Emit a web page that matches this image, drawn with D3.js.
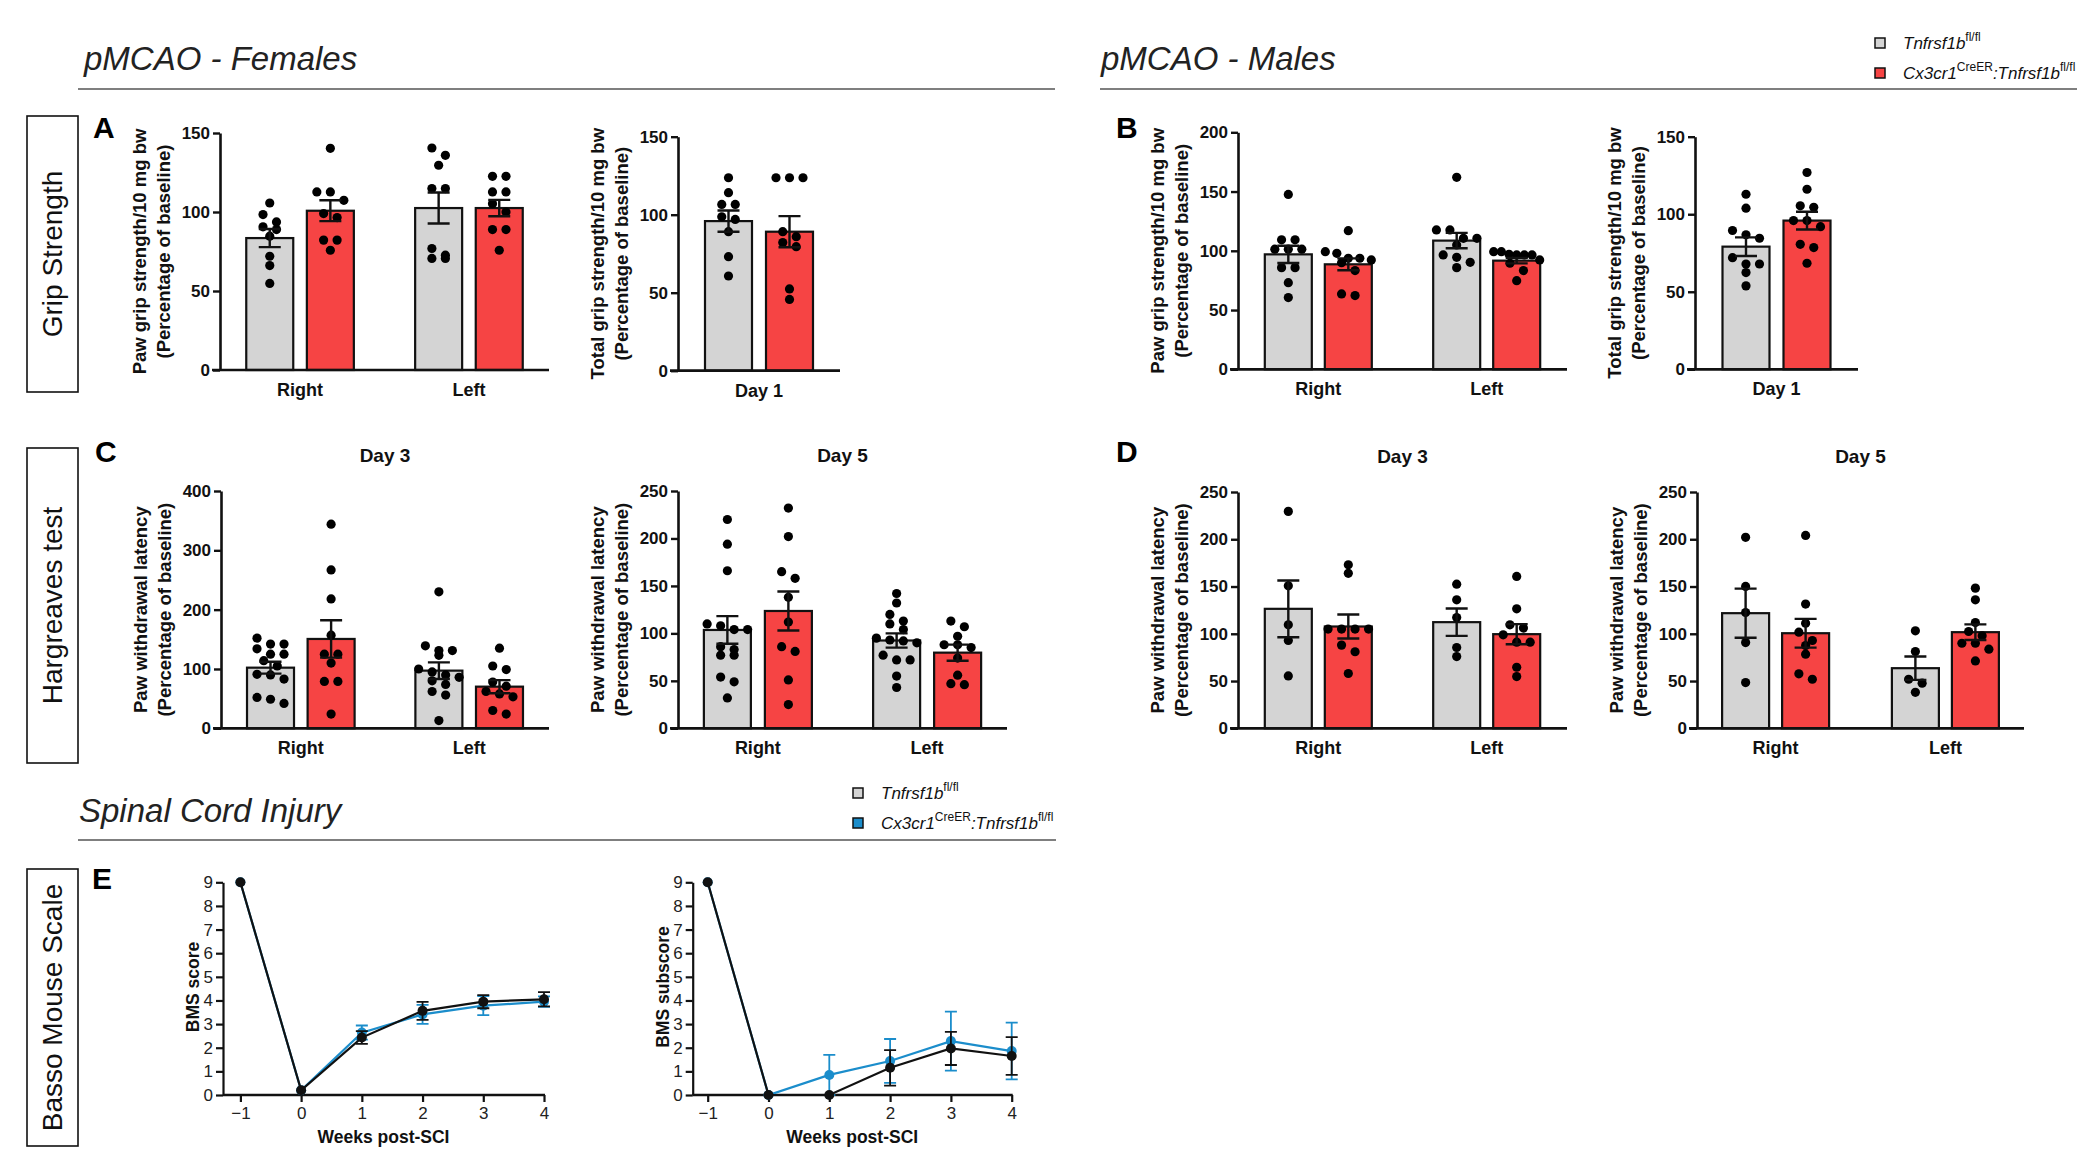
<!DOCTYPE html>
<html>
<head>
<meta charset="utf-8">
<script src="https://cdn.jsdelivr.net/npm/d3@7"></script>
<style>
  body { margin: 0; background: #fff; }
  svg { font-family: "Liberation Sans", Arial, sans-serif; }
</style>
</head>
<body>
<script>
// ---- data (bars ordered Right-ctrl, Right-cKO, Left-ctrl, Left-cKO) ----
var grpLR = ["Right", "Left"];
var grpDay1 = ["Day 1"];

var femPawMean = [83.5, 100.8, 102.5, 102.5];
var femPawSem = [5.7, 6.6, 9.8, 5.2];
var femPawDots = [
  [105.7, 98.4, 93.7, 90.6, 88.9, 84.7, 72.0, 66.1, 54.8],
  [140.3, 112.7, 112.7, 107.4, 99, 96.5, 82.2, 82.2, 75.8],
  [140.5, 135.9, 129.6, 114.8, 114.8, 76.9, 72.7, 70.6, 70.6],
  [122.6, 122.6, 112.7, 112.7, 105.3, 100, 88.9, 88.9, 75.8]
];
var femTotMean = [95.9, 89.1];
var femTotSem = [6.8, 10.0];
var femTotDots = [
  [123.7, 114.1, 106.6, 106.6, 98.7, 97, 89.1, 73.1, 60.7],
  [123.7, 123.7, 123.7, 89.1, 85.9, 82.1, 79.5, 52.4, 45.7]
];

var malPawMean = [97.0, 88.6, 108.6, 91.7];
var malPawSem = [7.3, 5.0, 6.5, 2.3];
var malPawDots = [
  [147.6, 109.3, 109.3, 101.4, 101.4, 101.4, 85.8, 85.8, 73.1, 60.5],
  [117, 99.3, 97.9, 93.7, 93.7, 92.3, 90, 83.3, 63.6, 62.2],
  [162, 117.6, 117.6, 110.5, 110.5, 104.9, 96.5, 94.5, 90.3, 85.8],
  [99.3, 99.3, 97, 96.5, 96.5, 96.5, 92.3, 89.5, 83.3, 74.8]
];
var malTotMean = [79.1, 95.9];
var malTotSem = [6.0, 5.7];
var malTotDots = [
  [112.9, 103.9, 89.5, 86.7, 84.5, 72, 67.9, 67.9, 62.4, 53.8],
  [126.9, 116.1, 105.4, 104.5, 95.9, 95.9, 92, 80.6, 78.5, 68.4]
];

var femD3Mean = [102.2, 150.6, 97.2, 70.2];
var femD3Sem = [10, 31.5, 14, 11];
var femD3Dots = [
  [152, 142, 142, 134, 125, 125, 114, 105, 91, 90, 83, 52, 49, 42],
  [344, 267, 218, 157, 125, 125, 110, 79, 79, 24],
  [230, 139, 131, 131, 123, 100, 95, 90, 86, 80, 74, 62, 56, 13],
  [135, 105, 99, 78, 71, 62, 58, 53, 30, 24]
];
var femD5Mean = [103.6, 123.6, 92.5, 79.7];
var femD5Sem = [14.6, 20.6, 7.5, 8.5];
var femD5Dots = [
  [220, 194, 166, 110, 108, 104, 104, 86, 83, 77, 77, 54, 49, 32],
  [232, 202, 165, 158, 138, 112, 86, 81, 51, 25],
  [142, 132, 120, 113, 110, 104, 95, 93, 92, 90, 77, 72, 72, 55, 43],
  [113, 107, 97, 88, 88, 85, 74, 56, 47, 46]
];

var malD3Mean = [126.4, 107.7, 112.3, 99.6];
var malD3Sem = [30, 12.7, 14.5, 10.6];
var malD3Dots = [
  [229.5, 150.7, 109.5, 92.9, 55.4],
  [173, 164, 105, 105, 105, 105, 88, 81, 58],
  [152.5, 135.9, 117.2, 85.5, 75.9],
  [160.7, 126.4, 109.5, 106, 98.9, 91.1, 91.1, 64.6, 54.7]
];
var malD5Mean = [121.8, 100.6, 63.6, 101.7];
var malD5Sem = [26, 15.2, 12.4, 8.3];
var malD5Dots = [
  [202, 150.1, 122.5, 90.7, 48.4],
  [204.1, 131.4, 111.2, 101.7, 92.9, 87.6, 78.4, 57.6, 51.9],
  [103.1, 81.2, 51.9, 47.7, 38.1],
  [148.3, 135.9, 111.9, 102.4, 97.8, 90, 90, 83.7, 71.3]
];

var weeks = [-1, 0, 1, 2, 3, 4];
var bmsCtrl = [9, 0.2, 2.43, 3.56, 3.95, 4.05];
var bmsCtrlSem = [0, 0, 0.27, 0.38, 0.28, 0.3];
var bmsCko = [9, 0.2, 2.64, 3.41, 3.78, 3.95];
var bmsCkoSem = [0, 0, 0.3, 0.4, 0.4, 0.22];
var subCtrl = [9, 0, 0, 1.15, 1.97, 1.65];
var subCtrlSem = [0, 0, 0, 0.75, 0.7, 0.8];
var subCko = [9, 0, 0.85, 1.44, 2.28, 1.86];
var subCkoSem = [0, 0, 0.85, 0.93, 1.25, 1.2];

// ---- drawing ----
var GRAY = "#d4d4d4", RED = "#f64444", BLUE = "#1b8dcb", INK = "#111";
var svg = d3.select("body").append("svg").attr("width", 2100).attr("height", 1169);

function swarm(vals, y, cx) {
  var rows = [];
  vals.slice().sort(function (a, b) { return b - a; }).forEach(function (v) {
    var py = y(v), r = rows[rows.length - 1];
    if (r && py - r.top < 8.5) r.items.push(py);
    else rows.push({top: py, items: [py]});
  });
  var out = [];
  rows.forEach(function (r) {
    var n = r.items.length, sp = n > 1 ? Math.min(13.5, 46 / (n - 1)) : 0;
    r.items.forEach(function (py, i) { out.push({x: cx + (i - (n - 1) / 2) * sp, y: py}); });
  });
  return out;
}

function yLabel(g, lines, cx, cy, size) {
  var t = g.append("text")
    .attr("transform", "translate(" + cx + "," + cy + ") rotate(-90)")
    .attr("text-anchor", "middle").attr("font-weight", "bold")
    .attr("font-size", size).attr("fill", INK);
  lines.forEach(function (l, i) {
    t.append("tspan").attr("x", 0).attr("y", i * 24).text(l);
  });
}

function barChart(c) {
  var g = svg.append("g");
  var y = d3.scaleLinear().domain([0, c.max]).range([c.y0, c.y1]);
  var x = d3.scalePoint().domain(c.groups).range([c.x0, c.x1]).padding(c.pad);
  var off = d3.scalePoint().domain([0, 1]).range([-(c.bw + c.gap) / 2, (c.bw + c.gap) / 2]);

  var bars = c.mean.map(function (m, i) {
    return {m: m, s: c.sem[i], dots: c.dots[i], k: i % 2,
      cx: x(c.groups[Math.floor(i / 2)]) + off(i % 2)};
  });

  g.selectAll("rect.bar").data(bars).enter().append("rect")
    .attr("x", function (d) { return d.cx - c.bw / 2; })
    .attr("y", function (d) { return y(d.m); })
    .attr("width", c.bw)
    .attr("height", function (d) { return c.y0 - y(d.m); })
    .attr("fill", function (d) { return d.k ? RED : GRAY; })
    .attr("stroke", INK).attr("stroke-width", 2.2);

  bars.forEach(function (b) {
    g.selectAll(null).data(swarm(b.dots, y, b.cx)).enter().append("circle")
      .attr("cx", function (d) { return d.x; })
      .attr("cy", function (d) { return d.y; })
      .attr("r", 4.6).attr("fill", "#000");
  });

  g.selectAll("path.err").data(bars).enter().append("path")
    .attr("d", function (d) {
      var t = y(d.m + d.s), b = y(d.m - d.s);
      return "M" + d.cx + "," + t + "V" + b +
        "M" + (d.cx - 11) + "," + t + "H" + (d.cx + 11) +
        "M" + (d.cx - 11) + "," + b + "H" + (d.cx + 11);
    })
    .attr("fill", "none").attr("stroke", INK).attr("stroke-width", 2.4);

  var ax = g.append("g").attr("transform", "translate(" + c.x0 + ",0)")
    .call(d3.axisLeft(y).tickValues(c.ticks).tickSize(7).tickSizeOuter(0).tickPadding(3));
  ax.select(".domain").attr("stroke", INK).attr("stroke-width", 2.6);
  ax.selectAll(".tick line").attr("stroke", INK).attr("stroke-width", 2.4);
  ax.selectAll(".tick text").attr("font-size", 17).attr("font-weight", "bold")
    .attr("fill", INK).attr("font-family", null);

  g.append("line").attr("x1", c.x0 - 8).attr("x2", c.x1)
    .attr("y1", c.y0).attr("y2", c.y0)
    .attr("stroke", INK).attr("stroke-width", 2.7);

  g.selectAll("text.grp").data(c.groups).enter().append("text")
    .attr("x", function (d) { return x(d); })
    .attr("y", c.y0 + 26)
    .attr("text-anchor", "middle").attr("font-weight", "bold")
    .attr("font-size", 18).attr("fill", INK)
    .text(function (d) { return d; });

  yLabel(g, c.label, c.x0 - 74, (c.y0 + c.y1) / 2, 18.5);

  if (c.title) {
    g.append("text").attr("x", (c.x0 + c.x1) / 2).attr("y", c.y1 - 29)
      .attr("text-anchor", "middle").attr("font-weight", "bold")
      .attr("font-size", 19).attr("fill", INK).text(c.title);
  }
}

var pawGrip = ["Paw grip strength/10 mg bw", "(Percentage of baseline)"];
var totGrip = ["Total grip strength/10 mg bw", "(Percentage of baseline)"];
var pawLat = ["Paw withdrawal latency", "(Percentage of baseline)"];

barChart({groups: grpLR, mean: femPawMean, sem: femPawSem, dots: femPawDots, max: 150,
  ticks: [0, 50, 100, 150], x0: 220, x1: 549, y0: 370, y1: 133, pad: 0.474, bw: 47, gap: 13.6, label: pawGrip});
barChart({groups: grpDay1, mean: femTotMean, sem: femTotSem, dots: femTotDots, max: 150,
  ticks: [0, 50, 100, 150], x0: 678, x1: 840, y0: 370.7, y1: 136.7, pad: 0.5, bw: 47, gap: 14, label: totGrip});
barChart({groups: grpLR, mean: malPawMean, sem: malPawSem, dots: malPawDots, max: 200,
  ticks: [0, 50, 100, 150, 200], x0: 1238, x1: 1567, y0: 369.3, y1: 132.3, pad: 0.477, bw: 47, gap: 13, label: pawGrip});
barChart({groups: grpDay1, mean: malTotMean, sem: malTotSem, dots: malTotDots, max: 150,
  ticks: [0, 50, 100, 150], x0: 1695, x1: 1858, y0: 369.3, y1: 136.7, pad: 0.5, bw: 47, gap: 14, label: totGrip});
barChart({groups: grpLR, mean: femD3Mean, sem: femD3Sem, dots: femD3Dots, max: 400,
  ticks: [0, 100, 200, 300, 400], x0: 221, x1: 549, y0: 728.3, y1: 491, pad: 0.474, bw: 47, gap: 13.6, label: pawLat, title: "Day 3"});
barChart({groups: grpLR, mean: femD5Mean, sem: femD5Sem, dots: femD5Dots, max: 250,
  ticks: [0, 50, 100, 150, 200, 250], x0: 678, x1: 1007, y0: 728.3, y1: 491, pad: 0.472, bw: 47, gap: 14, label: pawLat, title: "Day 5"});
barChart({groups: grpLR, mean: malD3Mean, sem: malD3Sem, dots: malD3Dots, max: 250,
  ticks: [0, 50, 100, 150, 200, 250], x0: 1238, x1: 1567, y0: 728.3, y1: 492, pad: 0.477, bw: 47, gap: 13, label: pawLat, title: "Day 3"});
barChart({groups: grpLR, mean: malD5Mean, sem: malD5Sem, dots: malD5Dots, max: 250,
  ticks: [0, 50, 100, 150, 200, 250], x0: 1697, x1: 2024, y0: 728.3, y1: 492, pad: 0.463, bw: 47, gap: 13, label: pawLat, title: "Day 5"});

// line charts (BMS)
function lineChart(c) {
  var g = svg.append("g");
  var y = d3.scaleLinear().domain([0, 9]).range([1095, 882.3]);
  var x = d3.scaleLinear().domain([-1, 4]).range([c.xa, c.xb]);

  var ax = g.append("g").attr("transform", "translate(" + c.x0 + ",0)")
    .call(d3.axisLeft(y).ticks(9).tickFormat(d3.format("d")).tickSize(7).tickSizeOuter(0).tickPadding(3));
  var bx = g.append("g").attr("transform", "translate(0,1095)")
    .call(d3.axisBottom(x).tickValues(weeks).tickFormat(d3.format("d")).tickSize(7).tickSizeOuter(0).tickPadding(5));
  bx.select(".domain").remove();
  [ax, bx].forEach(function (a) {
    a.selectAll(".domain, .tick line").attr("stroke", INK).attr("stroke-width", 2.2);
    a.selectAll(".tick text").attr("font-size", 17).attr("fill", "#222").attr("font-family", null);
  });
  g.append("line").attr("x1", c.x0).attr("x2", c.xb + 1)
    .attr("y1", 1095).attr("y2", 1095).attr("stroke", INK).attr("stroke-width", 2.4);

  var line = d3.line().x(function (d) { return x(d.w); }).y(function (d) { return y(d.v); });
  c.series.forEach(function (s) {
    var pts = weeks.map(function (w, i) { return {w: w, v: s.v[i], e: s.e[i]}; });
    g.append("path").datum(pts).attr("d", line)
      .attr("fill", "none").attr("stroke", s.color).attr("stroke-width", 2.2);
    g.selectAll(null).data(pts.filter(function (d) { return d.e > 0; })).enter().append("path")
      .attr("d", function (d) {
        var px = x(d.w), t = y(d.v + d.e), b = y(Math.max(0, d.v - d.e));
        return "M" + px + "," + t + "V" + b + "M" + (px - 6) + "," + t + "H" + (px + 6) +
          "M" + (px - 6) + "," + b + "H" + (px + 6);
      })
      .attr("fill", "none").attr("stroke", s.color).attr("stroke-width", 1.8);
    g.selectAll(null).data(pts).enter().append("circle")
      .attr("cx", function (d) { return x(d.w); })
      .attr("cy", function (d) { return y(d.v); })
      .attr("r", 5).attr("fill", s.color);
  });

  yLabel(g, [c.label], c.x0 - 24, 987, 17.5);
  g.append("text").attr("x", (c.x0 + c.xb) / 2).attr("y", 1143)
    .attr("text-anchor", "middle").attr("font-weight", "bold")
    .attr("font-size", 17.5).attr("fill", INK).text("Weeks post-SCI");
}

lineChart({x0: 223, xa: 240.4, xb: 544, label: "BMS score", series: [
  {v: bmsCko, e: bmsCkoSem, color: BLUE}, {v: bmsCtrl, e: bmsCtrlSem, color: INK}]});
lineChart({x0: 692.7, xa: 707.7, xb: 1011.7, label: "BMS subscore", series: [
  {v: subCko, e: subCkoSem, color: BLUE}, {v: subCtrl, e: subCtrlSem, color: INK}]});

// section titles and rules
[{t: "pMCAO - Females", x: 84, y: 70, x1: 78, x2: 1055, ry: 89},
 {t: "pMCAO - Males", x: 1101, y: 70, x1: 1100, x2: 2077, ry: 89},
 {t: "Spinal Cord Injury", x: 79, y: 822, x1: 78, x2: 1056, ry: 840}].forEach(function (s) {
  svg.append("text").attr("x", s.x).attr("y", s.y).attr("font-style", "italic")
    .attr("font-size", 33).attr("fill", "#222").text(s.t);
  svg.append("line").attr("x1", s.x1).attr("x2", s.x2).attr("y1", s.ry).attr("y2", s.ry)
    .attr("stroke", "#555").attr("stroke-width", 1.6);
});

// row boxes
[{t: "Grip Strength", y1: 116, y2: 392},
 {t: "Hargreaves test", y1: 448, y2: 763},
 {t: "Basso Mouse Scale", y1: 869, y2: 1146}].forEach(function (r) {
  svg.append("rect").attr("x", 27).attr("y", r.y1).attr("width", 51).attr("height", r.y2 - r.y1)
    .attr("fill", "none").attr("stroke", "#111").attr("stroke-width", 1.6);
  svg.append("text").attr("transform", "translate(62," + ((r.y1 + r.y2) / 2) + ") rotate(-90)")
    .attr("text-anchor", "middle").attr("font-size", 28).attr("fill", "#111").text(r.t);
});

// panel letters
[["A", 93, 138], ["B", 1116, 138], ["C", 95, 462], ["D", 1116, 462], ["E", 92, 889]].forEach(function (p) {
  svg.append("text").attr("x", p[1]).attr("y", p[2]).attr("font-weight", "bold")
    .attr("font-size", 30).attr("fill", "#000").text(p[0]);
});

// legends
function legend(x, y, color, size, cre) {
  svg.append("rect").attr("x", x - 5).attr("y", y - 5).attr("width", 10).attr("height", 10)
    .attr("fill", color).attr("stroke", "#111").attr("stroke-width", 1.5);
  var t = svg.append("text").attr("x", x + 23).attr("y", y + 6)
    .attr("font-size", size).attr("font-style", "italic").attr("fill", "#111");
  var sup = Math.round(size * 0.7);
  if (cre) {
    t.append("tspan").text("Cx3cr1");
    t.append("tspan").attr("dy", -8).attr("font-size", sup).attr("font-style", "normal").text("CreER");
    t.append("tspan").attr("dy", 8).text(":Tnfrsf1b");
  } else {
    t.append("tspan").text("Tnfrsf1b");
  }
  t.append("tspan").attr("dy", -8).attr("font-size", sup).attr("font-style", "normal").text("fl/fl");
}
legend(1880, 43, GRAY, 17, false);
legend(1880, 73, RED, 17, true);
legend(858, 793, GRAY, 17, false);
legend(858, 823, BLUE, 17, true);
</script>
</body>
</html>
